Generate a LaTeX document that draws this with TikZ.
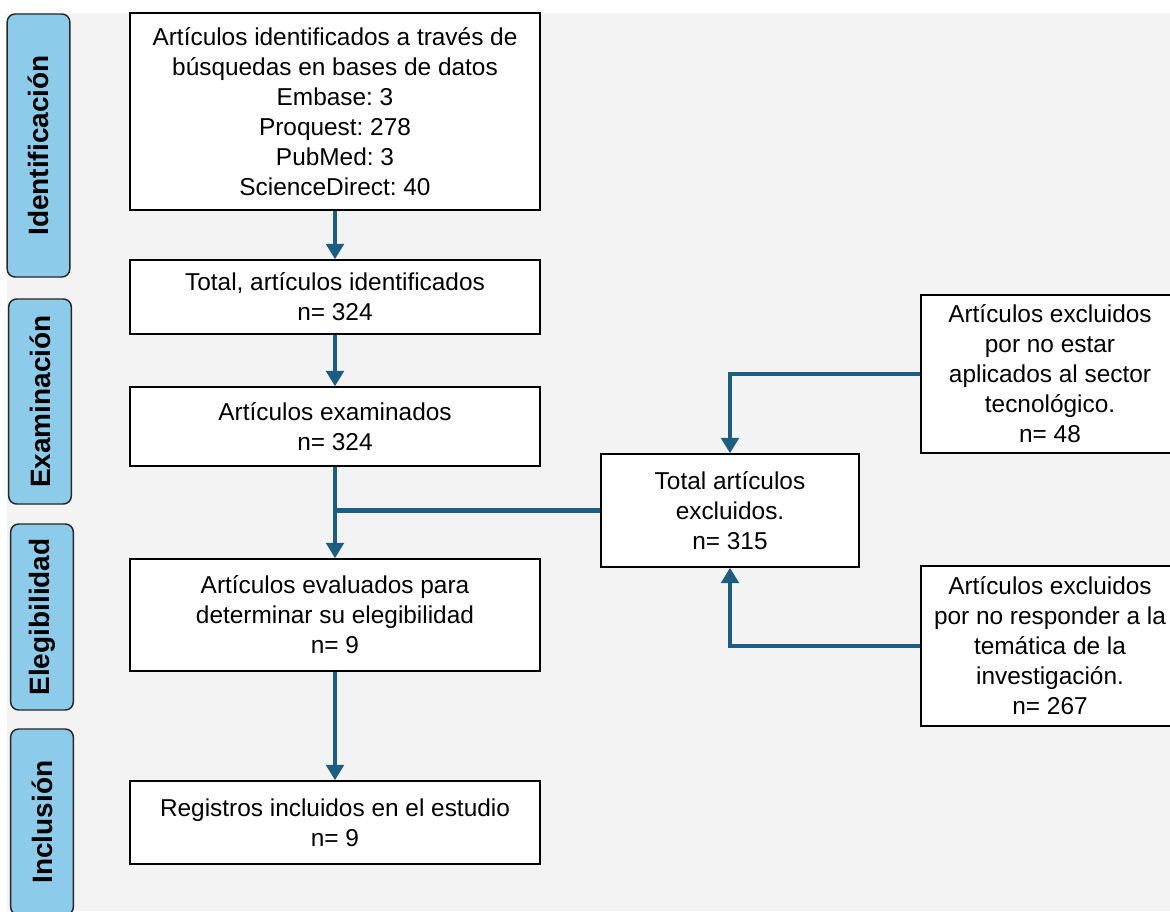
\documentclass[tikz,border=0pt]{standalone}
\usepackage{fontspec}
\setmainfont{Liberation Sans}
\usetikzlibrary{arrows.meta}
\definecolor{bgray}{HTML}{F3F3F3}
\definecolor{phase}{HTML}{8DCBEA}
\definecolor{arr}{HTML}{1B5E82}
\frenchspacing
\begin{document}
\begin{tikzpicture}[x=0.75pt,y=-0.75pt,
  box/.style={draw=black, line width=1.1pt, fill=white, align=center,
    font=\fontsize{18.3}{22.5}\selectfont, inner sep=0pt},
  phasebox/.style={draw=black!85, line width=1.1pt, fill=phase, rounded corners=6pt,
    font=\bfseries\fontsize{21}{24}\selectfont, inner sep=0pt, rotate=90,
    minimum height=47pt},
  flow/.style={draw=arr, line width=3.3pt, -{Triangle[width=13pt,length=11.5pt]}},
  link/.style={draw=arr, line width=3.3pt}]
\useasboundingbox (0,0) rectangle (1170,911);
\fill[white] (0,0) rectangle (1170,911);
\fill[bgray] (7,13) rectangle (1170,911);

% phase labels
\node[phasebox, minimum width=197.25pt] (pid) at (38.5,145.5) {Identificación};
\node[phasebox, minimum width=153.75pt] (pex) at (40,401.5) {Examinación};
\node[phasebox, minimum width=139.5pt] (pel) at (42,617) {Elegibilidad};
\node[phasebox, minimum width=139.5pt] (pin) at (42,822) {Inclusión};

% main boxes
\node[box, minimum width=307.5pt, minimum height=147.75pt] (b1) at (335,111.5)
  {Artículos identificados a través de\\búsquedas en bases de datos\\Embase: 3\\Proquest: 278\\PubMed: 3\\ScienceDirect: 40};
\node[box, minimum width=307.5pt, minimum height=55.5pt] (b2) at (335,297)
  {Total, artículos identificados\\n= 324};
\node[box, minimum width=307.5pt, minimum height=59.25pt] (b3) at (335,426.5)
  {Artículos examinados\\n= 324};
\node[box, minimum width=307.5pt, minimum height=84pt] (b4) at (335,615)
  {Artículos evaluados para\\determinar su elegibilidad\\n= 9};
\node[box, minimum width=307.5pt, minimum height=62.25pt] (b5) at (335,822.5)
  {Registros incluidos en el estudio\\n= 9};
\node[box, minimum width=193.5pt, minimum height=84.75pt] (tot) at (730,510.5)
  {Total artículos\\excluidos.\\n= 315};
\node[box, minimum width=193.5pt, minimum height=118.5pt] (e1) at (1050,374)
  {Artículos excluidos\\por no estar\\aplicados al sector\\tecnológico.\\n= 48};
\node[box, minimum width=193.5pt, minimum height=120pt] (e2) at (1050,646)
  {Artículos excluidos\\por no responder a la\\temática de la\\investigación.\\n= 267};

% connectors
\draw[flow] (b1.south) -- (b2.north);
\draw[flow] (b2.south) -- (b3.north);
\draw[flow] (b3.south) -- (b4.north);
\draw[link] (tot.west) -- (tot.west -| b3.south);
\draw[flow] (b4.south) -- (b5.north);
\draw[flow] (e1.west) -- (e1.west -| tot.north) -- (tot.north);
\draw[flow] (e2.west) -- (e2.west -| tot.south) -- (tot.south);
\end{tikzpicture}
\end{document}
